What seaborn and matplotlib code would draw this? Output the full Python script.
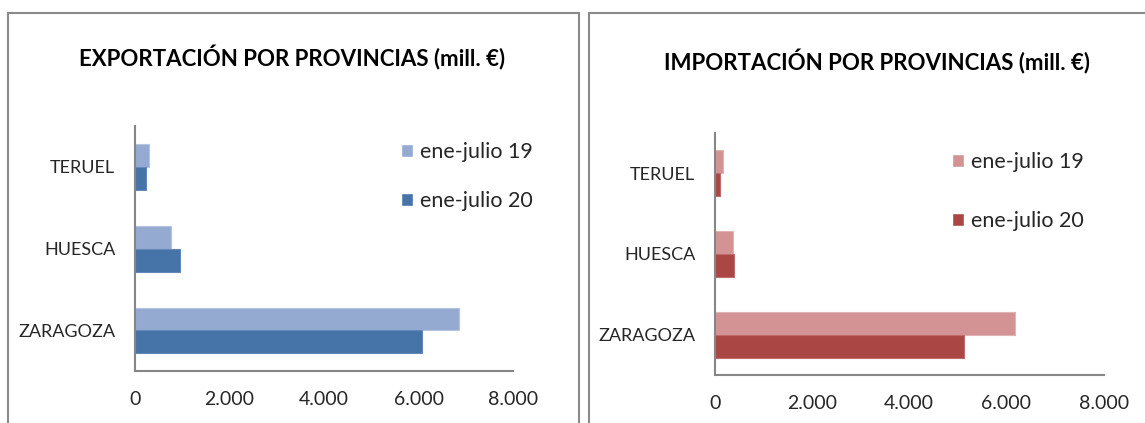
import matplotlib
matplotlib.use("Agg")
import matplotlib.pyplot as plt
from matplotlib.patches import Rectangle
import pandas as pd
import seaborn as sns

# ---- data ----
provincias = ["TERUEL", "HUESCA", "ZARAGOZA"]
periodos = ["ene-julio 19", "ene-julio 20"]
export_19 = [300, 760, 6860]
export_20 = [245, 950, 6080]
import_19 = [165, 376, 6180]
import_20 = [110, 403, 5125]
xticks = [0, 2000, 4000, 6000, 8000]
xtick_labels = ["0", "2.000", "4.000", "6.000", "8.000"]
titulo_exp = "EXPORTACIÓN POR PROVINCIAS (mill. €)"
titulo_imp = "IMPORTACIÓN POR PROVINCIAS (mill. €)"

def long_df(v19, v20):
    rows = []
    for p, a, b in zip(provincias, v19, v20):
        rows.append({"provincia": p, "periodo": periodos[0], "valor": a})
        rows.append({"provincia": p, "periodo": periodos[1], "valor": b})
    return pd.DataFrame(rows)

df_exp = long_df(export_19, export_20)
df_imp = long_df(import_19, import_20)

sns.set_theme(style="white")
plt.rcParams["font.family"] = ["Lato", "DejaVu Sans"]

W, H = 1145, 423
fig = plt.figure(figsize=(W / 100, H / 100), dpi=100)
fig.patch.set_facecolor("white")

def fx(px):
    return px / W

def fy(py):
    return 1 - py / H

# panel borders
border = "#8a8a8a"
fig.patches.append(Rectangle((fx(8), fy(440)), fx(579) - fx(8), fy(13) - fy(440),
                             transform=fig.transFigure, fill=False, edgecolor=border,
                             linewidth=1.5, zorder=0))
fig.patches.append(Rectangle((fx(589), fy(440)), fx(1160) - fx(589), fy(13) - fy(440),
                             transform=fig.transFigure, fill=False, edgecolor=border,
                             linewidth=1.5, zorder=0))

def panel(df, rect_px, colors, edgecolors, title, title_xy, legend_xy, labelspacing):
    x0, y0, x1, y1 = rect_px
    ax = fig.add_axes([fx(x0), fy(y1), fx(x1) - fx(x0), fy(y0) - fy(y1)])
    sns.barplot(data=df, y="provincia", x="valor", hue="periodo", order=provincias,
                hue_order=periodos, palette=colors, orient="h", width=0.56,
                saturation=1, errorbar=None, ax=ax, legend=True)
    for cont, ec in zip(ax.containers, edgecolors):
        for bar in cont:
            bar.set_edgecolor(ec)
            bar.set_linewidth(0.8)
    ax.set_xlim(0, 8000)
    ax.set_ylim(2.5, -0.5)
    ax.set_xticks(xticks, labels=xtick_labels)
    ax.set_xlabel("")
    ax.set_ylabel("")
    for s in ["top", "right"]:
        ax.spines[s].set_visible(False)
    for s in ["left", "bottom"]:
        ax.spines[s].set_color("#868686")
        ax.spines[s].set_linewidth(1.5)
    ax.tick_params(axis="x", length=0, pad=14, labelsize=14, labelcolor="#262626")
    ax.tick_params(axis="y", length=0, pad=14, labelsize=13, labelcolor="#262626")
    ax.grid(False)
    handles, labels = ax.get_legend_handles_labels()
    ax.legend(handles, labels, loc="center left",
              bbox_to_anchor=(fx(legend_xy[0]), fy(legend_xy[1])),
              bbox_transform=fig.transFigure, frameon=False, fontsize=15.5,
              handlelength=0.55, handleheight=0.55, handletextpad=0.35,
              labelspacing=labelspacing, borderpad=0, borderaxespad=0,
              labelcolor="#262626")
    fig.text(fx(title_xy[0]), fy(title_xy[1]), title, ha="center", va="center",
             fontsize=16, fontweight="bold", color="black")
    return ax

panel(df_exp, (134.7, 126, 513.3, 371.3), ["#95AAD1", "#4673A8"], ["#B5C4E0", "#6488B8"],
      titulo_exp, (292, 58), (401, 176.5), 1.35)
panel(df_imp, (714.7, 132.7, 1103.6, 375.3), ["#D39394", "#AA4745"], ["#E2B3B3", "#BE6B69"],
      titulo_imp, (877, 62), (952, 191.5), 1.8)

fig.savefig("out.png", dpi=100)
